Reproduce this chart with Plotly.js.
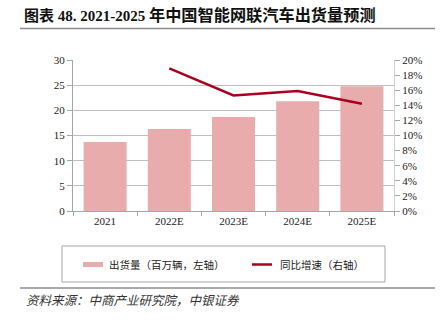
<!DOCTYPE html>
<html>
<head>
<meta charset="utf-8">
<script src="https://cdn.plot.ly/plotly-3.0.1.min.js"></script>
<style>
html,body{margin:0;padding:0;background:#fff;}
#chart{width:448px;height:322px;}
</style>
</head>
<body>
<div id="chart"></div>
<script>
const categories = ["2021", "2022E", "2023E", "2024E", "2025E"];
const shipments = [13.7, 16.3, 18.7, 21.8, 24.8];
const growthPct = [null, 18.9, 15.3, 15.9, 14.2];
const shipmentsName = "出货量（百万辆，左轴）";
const growthName = "同比增速（右轴）";
const titleHead = "图表 48. 2021-2025 ";
const titleTail = "年中国智能网联汽车出货量预测";
const sourceText = "资料来源：中商产业研究院，中银证券";
const leftTicks = [0, 5, 10, 15, 20, 25, 30];
const rightTicks = [0, 2, 4, 6, 8, 10, 12, 14, 16, 18, 20];

const L = 73, R = 394, T = 60, B = 211;
const px = x => (x - L) / (R - L);
const py = y => (B - y) / (B - T);

const serif = "Liberation Serif, Times New Roman, serif";
const cjk = "Noto Sans CJK SC, sans-serif";
const barColor = "#E8ACAC";
const lineColor = "#A8001F";

const traces = [
  {type: "bar", x: categories, y: shipments, name: shipmentsName,
   marker: {color: barColor, line: {width: 0}}, showlegend: false, hoverinfo: "none"},
  {type: "scatter", mode: "lines", x: categories, y: growthPct, name: growthName, yaxis: "y2",
   line: {color: lineColor, width: 2.5}, showlegend: false, hoverinfo: "none"}
];

const layout = {
  width: 448, height: 322,
  margin: {l: L, r: 448 - R, t: T, b: 322 - B, pad: 0},
  paper_bgcolor: "#fff", plot_bgcolor: "#fff",
  bargap: 0.33,
  showlegend: false,
  xaxis: {
    type: "category", showgrid: false, showline: true, linecolor: "#a6a6a6", linewidth: 1,
    ticks: "outside", tickson: "boundaries", ticklen: 4, tickcolor: "#a6a6a6",
    tickfont: {family: serif, size: 11, color: "#222"}, fixedrange: true
  },
  yaxis: {
    range: [0, 30], tickvals: leftTicks, ticktext: leftTicks.map(String),
    showgrid: true, gridcolor: "#c0c0c0", gridwidth: 1, zeroline: false,
    showline: true, linecolor: "#a6a6a6", ticks: "outside", ticklen: 5, tickcolor: "#a6a6a6",
    tickfont: {family: serif, size: 11, color: "#222"}, fixedrange: true
  },
  yaxis2: {
    overlaying: "y", side: "right", range: [0, 20], tickvals: rightTicks,
    ticktext: rightTicks.map(v => v + "%"),
    showgrid: false, zeroline: false, showline: true, linecolor: "#d0d0d0",
    ticks: "outside", ticklen: 5, tickcolor: "#a6a6a6",
    tickfont: {family: serif, size: 11, color: "#222"}, fixedrange: true
  },
  shapes: [
    {type: "line", xref: "paper", yref: "paper", x0: px(20), x1: px(435), y0: py(28.5), y1: py(28.5),
     line: {color: "#8c8c8c", width: 1.5}},
    {type: "line", xref: "paper", yref: "paper", x0: px(20), x1: px(435), y0: py(288), y1: py(288),
     line: {color: "#8c8c8c", width: 1.5}},
    {type: "rect", xref: "paper", yref: "paper", x0: px(62), x1: px(385), y0: py(246), y1: py(282),
     line: {color: "#a6a6a6", width: 1}, fillcolor: "rgba(0,0,0,0)"},
    {type: "rect", xref: "paper", yref: "paper", x0: px(83), x1: px(103), y0: py(262), y1: py(267),
     line: {width: 0}, fillcolor: barColor},
    {type: "line", xref: "paper", yref: "paper", x0: px(252), x1: px(272), y0: py(264.5), y1: py(264.5),
     line: {color: lineColor, width: 2.5}}
  ],
  annotations: [
    {xref: "paper", yref: "paper", x: px(22), y: py(15), xanchor: "left", yanchor: "middle",
     text: "<b>" + titleHead + "<span style=\"font-size:16.2px\">" + titleTail + "</span></b>", showarrow: false,
     font: {family: "Liberation Serif, Noto Sans CJK SC, serif", size: 15, color: "#111"}},
    {xref: "paper", yref: "paper", x: px(107), y: py(264.5), xanchor: "left", yanchor: "middle",
     text: shipmentsName, showarrow: false, font: {family: cjk, size: 10.5, color: "#222"}},
    {xref: "paper", yref: "paper", x: px(278), y: py(264.5), xanchor: "left", yanchor: "middle",
     text: growthName, showarrow: false, font: {family: cjk, size: 10.5, color: "#222"}},
    {xref: "paper", yref: "paper", x: px(24), y: py(299), xanchor: "left", yanchor: "middle",
     text: "<i>" + sourceText + "</i>", showarrow: false, font: {family: cjk, size: 12.5, color: "#333"}}
  ]
};

Plotly.newPlot("chart", traces, layout, {displayModeBar: false, staticPlot: true});
</script>
</body>
</html>
